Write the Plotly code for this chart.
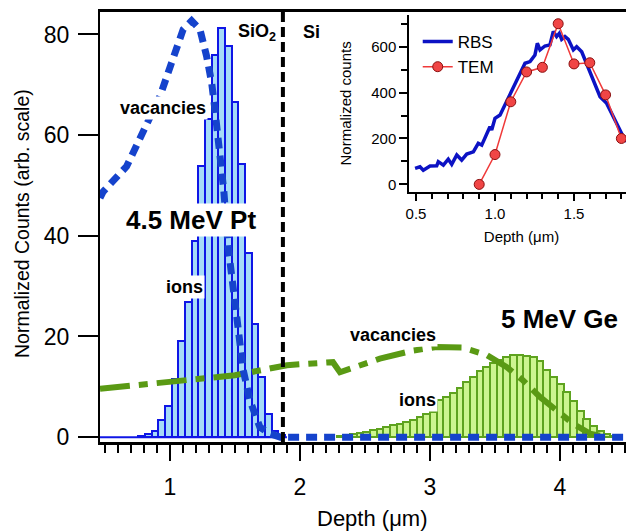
import plotly.graph_objects as go

# ---------------- data ----------------
# 4.5 MeV Pt ion histogram (depth bin centres in um, counts)
pt_depth = [0.783, 0.834, 0.885, 0.937, 0.988, 1.039, 1.091, 1.142, 1.193, 1.244, 1.296,
            1.347, 1.398, 1.450, 1.501, 1.552, 1.604, 1.655, 1.706, 1.757, 1.809, 1.860]
pt_ions = [0.2, 0.7, 1.2, 3.4, 6.2, 11.5, 19.2, 26.9, 38.9, 53.9, 63.2,
           75.9, 81.2, 77.7, 66.5, 54.2, 36.5, 22.5, 11.9, 4.7, 1.3, 0.5]

# 5 MeV Ge ion histogram
ge_depth = [2.308, 2.359, 2.410, 2.462, 2.513, 2.564, 2.616, 2.667, 2.718, 2.770, 2.821,
            2.872, 2.924, 2.975, 3.026, 3.078, 3.129, 3.180, 3.232, 3.283, 3.334, 3.386,
            3.437, 3.488, 3.540, 3.591, 3.642, 3.694, 3.745, 3.796, 3.848, 3.899, 3.950,
            4.002, 4.053, 4.104, 4.156, 4.207, 4.258, 4.310, 4.361, 4.412]
ge_ions = [0.2, 0.4, 0.6, 0.9, 1.1, 1.4, 1.7, 2.0, 2.4, 2.6, 3.0,
           3.4, 4.0, 4.6, 5.0, 7.4, 8.0, 8.8, 9.8, 10.9, 12.0, 13.2,
           14.0, 14.7, 15.4, 16.0, 16.4, 16.4, 16.2, 15.9, 15.1, 13.3, 11.9,
           10.5, 8.9, 7.2, 5.2, 3.7, 2.2, 1.3, 0.7, 0.3]

# Pt vacancies
pt_vac_depth = [0.462, 0.487, 0.667, 0.795, 0.923, 1.013, 1.102, 1.167, 1.231, 1.282, 1.321,
                1.346, 1.385, 1.415, 1.448, 1.487, 1.525, 1.564, 1.615, 1.692, 1.769,
                1.850, 2.500, 3.500, 4.570]
pt_vac = [47.5, 48.8, 53.8, 60.4, 67.7, 74.4, 81.0, 82.7, 81.0, 75.7, 70.4,
          65.1, 57.1, 48.8, 37.8, 29.2, 20.6, 13.3, 7.3, 2.0, 0.7,
          0.0, 0.0, 0.0, 0.0]

# Ge vacancies
ge_vac_depth = [0.462, 1.000, 1.500, 1.900, 2.100, 2.254, 2.308, 2.615, 2.869, 3.050,
                3.250, 3.438, 3.592, 3.715, 3.846, 3.977, 4.100, 4.231, 4.308]
ge_vac = [9.6, 10.9, 12.3, 14.3, 14.6, 14.9, 12.9, 15.6, 17.2, 17.9,
          17.8, 16.3, 13.9, 11.3, 8.0, 5.3, 2.7, 0.7, 0.3]

# Pt histogram baseline
pt_base_depth = [0.462, 1.900]
pt_base = [0.0, 0.0]

# SiO2 / Si interface
interface_depth = 1.869

# Inset: RBS and TEM
rbs_depth = [0.494, 0.525, 0.546, 0.589, 0.631, 0.641, 0.673, 0.704, 0.726, 0.758, 0.789,
             0.821, 0.863, 0.894, 0.916, 0.947, 0.968, 0.979, 1.000, 1.032, 1.074, 1.116,
             1.158, 1.190, 1.222, 1.253, 1.268, 1.285, 1.316, 1.348, 1.369, 1.390, 1.407,
             1.422, 1.443, 1.464, 1.496, 1.517, 1.549, 1.580, 1.622, 1.665, 1.707, 1.749,
             1.780, 1.812, 1.854]
rbs_counts = [70, 77, 62, 80, 81, 99, 84, 110, 87, 128, 106,
              132, 142, 179, 171, 215, 251, 237, 288, 302, 360, 419,
              477, 528, 535, 564, 615, 586, 603, 608, 666, 644, 658,
              632, 644, 632, 586, 600, 578, 528, 455, 382, 353, 295,
              251, 208, 171]
tem_depth = [0.9, 1.0, 1.1, 1.2, 1.3, 1.4, 1.5, 1.6, 1.7, 1.8]
tem_counts = [0, 130, 360, 490, 510, 700, 525, 530, 390, 200]

main_xticks = [1, 2, 3, 4]
main_yticks = [0, 20, 40, 60, 80]
inset_xticks = [0.5, 1.0, 1.5]
inset_xticklabels = ["0.5", "1.0", "1.5"]
inset_yticks = [0, 200, 400, 600]

# ---------------- figure ----------------
FONT = "Liberation Sans, Arial, sans-serif"
BIN_W = 0.0513

fig = go.Figure()

fig.add_trace(go.Bar(x=pt_depth, y=pt_ions, width=BIN_W,
                     marker=dict(color="#a6dbf7", line=dict(color="#0f16e6", width=2)),
                     showlegend=False, xaxis="x", yaxis="y"))
fig.add_trace(go.Bar(x=ge_depth, y=ge_ions, width=BIN_W,
                     marker=dict(color="#cdf590", line=dict(color="#5ea31f", width=2)),
                     showlegend=False, xaxis="x", yaxis="y"))
fig.add_trace(go.Scatter(x=pt_base_depth, y=pt_base, mode="lines",
                         line=dict(color="#0f16e6", width=2),
                         showlegend=False, hoverinfo="skip"))
fig.add_trace(go.Scatter(x=ge_vac_depth, y=ge_vac, mode="lines",
                         line=dict(color="#5a9a14", width=6, dash="30px,9px,9px,9px"),
                         showlegend=False))
fig.add_trace(go.Scatter(x=pt_vac_depth, y=pt_vac, mode="lines",
                         line=dict(color="#1543cc", width=7, dash="11px,7px"),
                         showlegend=False))

# inset traces
fig.add_trace(go.Scatter(x=rbs_depth, y=rbs_counts, mode="lines", name="RBS",
                         line=dict(color="#0c12c4", width=3.5),
                         xaxis="x2", yaxis="y2"))
fig.add_trace(go.Scatter(x=tem_depth, y=tem_counts, mode="lines+markers", name="TEM",
                         line=dict(color="#f03a3a", width=1.5),
                         marker=dict(size=10, color="#f04545",
                                     line=dict(color="#8a1010", width=1)),
                         xaxis="x2", yaxis="y2"))

fig.add_shape(type="line", xref="x", yref="paper", x0=interface_depth, x1=interface_depth,
              y0=0, y1=1, line=dict(color="black", width=4, dash="10px,5px"))

ann_bold = dict(family=FONT, size=18, color="black")
annotations = [
    dict(x=0.946, y=65.3, text="<b>vacancies</b>", font=ann_bold),
    dict(x=1.165, y=43.1, text="<b>4.5 MeV Pt</b>", font=dict(family=FONT, size=26, color="black")),
    dict(x=1.115, y=29.9, text="<b>ions</b>", font=ann_bold),
    dict(x=4.0, y=23.4, text="<b>5 MeV Ge</b>", font=dict(family=FONT, size=26, color="black"),
         bgcolor="rgba(0,0,0,0)"),
    dict(x=2.715, y=20.2, text="<b>vacancies</b>", font=ann_bold),
    dict(x=2.908, y=7.3, text="<b>ions</b>", font=ann_bold),
    dict(x=1.835, y=80.3, text="<b>SiO<sub>2</sub></b>", font=ann_bold, xanchor="right",
         bgcolor="rgba(0,0,0,0)"),
    dict(x=2.005, y=80.5, text="<b>Si</b>", font=ann_bold, xanchor="left",
         bgcolor="rgba(0,0,0,0)"),
]
for a in annotations:
    a.setdefault("xref", "x")
    a.setdefault("yref", "y")
    a.setdefault("showarrow", False)
    a.setdefault("bgcolor", "white")
    a.setdefault("borderpad", 1)
    fig.add_annotation(**a)

# main axis titles placed as paper annotations
fig.add_annotation(xref="paper", yref="paper", x=-0.146, y=0.507, xanchor="center", yanchor="middle",
                   text="Normalized Counts (arb. scale)",
                   textangle=-90, showarrow=False, font=dict(family=FONT, size=19.5, color="black"))
fig.add_annotation(xref="paper", yref="paper", x=0.509, y=-0.177, xanchor="center", yanchor="middle",
                   text="Depth (μm)",
                   showarrow=False, font=dict(family=FONT, size=22, color="black"))

# the page body adds an 8px offset; the figure is sized so the plot area
# lands at x 100..634, y 12..442 of the 634x531 window
fig.update_layout(
    width=626, height=523,
    margin=dict(l=92, r=0, t=4, b=89, autoexpand=False),
    paper_bgcolor="white", plot_bgcolor="white",
    barmode="overlay", bargap=0,
    font=dict(family=FONT, color="black"),
    xaxis=dict(
        range=[0.462, 4.57], domain=[0, 1], automargin=False,
        showline=True, linecolor="black", linewidth=2.5, mirror=True,
        showgrid=False, zeroline=False,
        tickmode="array", tickvals=main_xticks,
        ticks="outside", ticklen=16, tickwidth=2, tickcolor="black",
        minor=dict(dtick=0.1, tick0=0, ticks="outside", ticklen=8, tickwidth=2,
                   tickcolor="black", showgrid=False),
        tickfont=dict(size=23), ticklabelstandoff=7,
    ),
    yaxis=dict(
        range=[-0.96, 84.46], domain=[0, 1], automargin=False,
        showline=True, linecolor="black", linewidth=2, mirror=False,
        showgrid=False, zeroline=False,
        tickmode="array", tickvals=main_yticks,
        ticks="outside", ticklen=20, tickwidth=2, tickcolor="black",
        tickfont=dict(size=23), ticklabelstandoff=4,
    ),
    xaxis2=dict(
        range=[0.4557, 1.88], domain=[0.5787, 1.0], anchor="y2", automargin=False,
        showline=True, linecolor="black", linewidth=1.5, mirror=False,
        showgrid=False, zeroline=False,
        tickmode="array", tickvals=inset_xticks, ticktext=inset_xticklabels,
        ticks="outside", ticklen=8, tickwidth=1.5, tickcolor="black",
        minor=dict(dtick=0.1, tick0=0, ticks="outside", ticklen=6, tickwidth=1.5,
                   tickcolor="black", showgrid=False),
        tickfont=dict(size=15),
        title=dict(text="Depth (μm)", font=dict(size=15), standoff=10),
    ),
    yaxis2=dict(
        range=[-32, 738], domain=[0.582, 0.993], anchor="x2", automargin=False,
        showline=True, linecolor="black", linewidth=1.5, mirror=False,
        showgrid=False, zeroline=False,
        tickmode="array", tickvals=inset_yticks,
        ticks="outside", ticklen=8, tickwidth=1.5, tickcolor="black",
        minor=dict(dtick=100, tick0=0, ticks="outside", ticklen=6, tickwidth=1.5,
                   tickcolor="black", showgrid=False),
        tickfont=dict(size=15),
        title=dict(text="Normalized counts", font=dict(size=15), standoff=16),
    ),
    legend=dict(x=0.595, y=0.972, xanchor="left", yanchor="top",
                bgcolor="rgba(0,0,0,0)", font=dict(size=17), itemwidth=30,
                tracegroupgap=0),
    showlegend=True,
)

fig.write_html("out.html")
